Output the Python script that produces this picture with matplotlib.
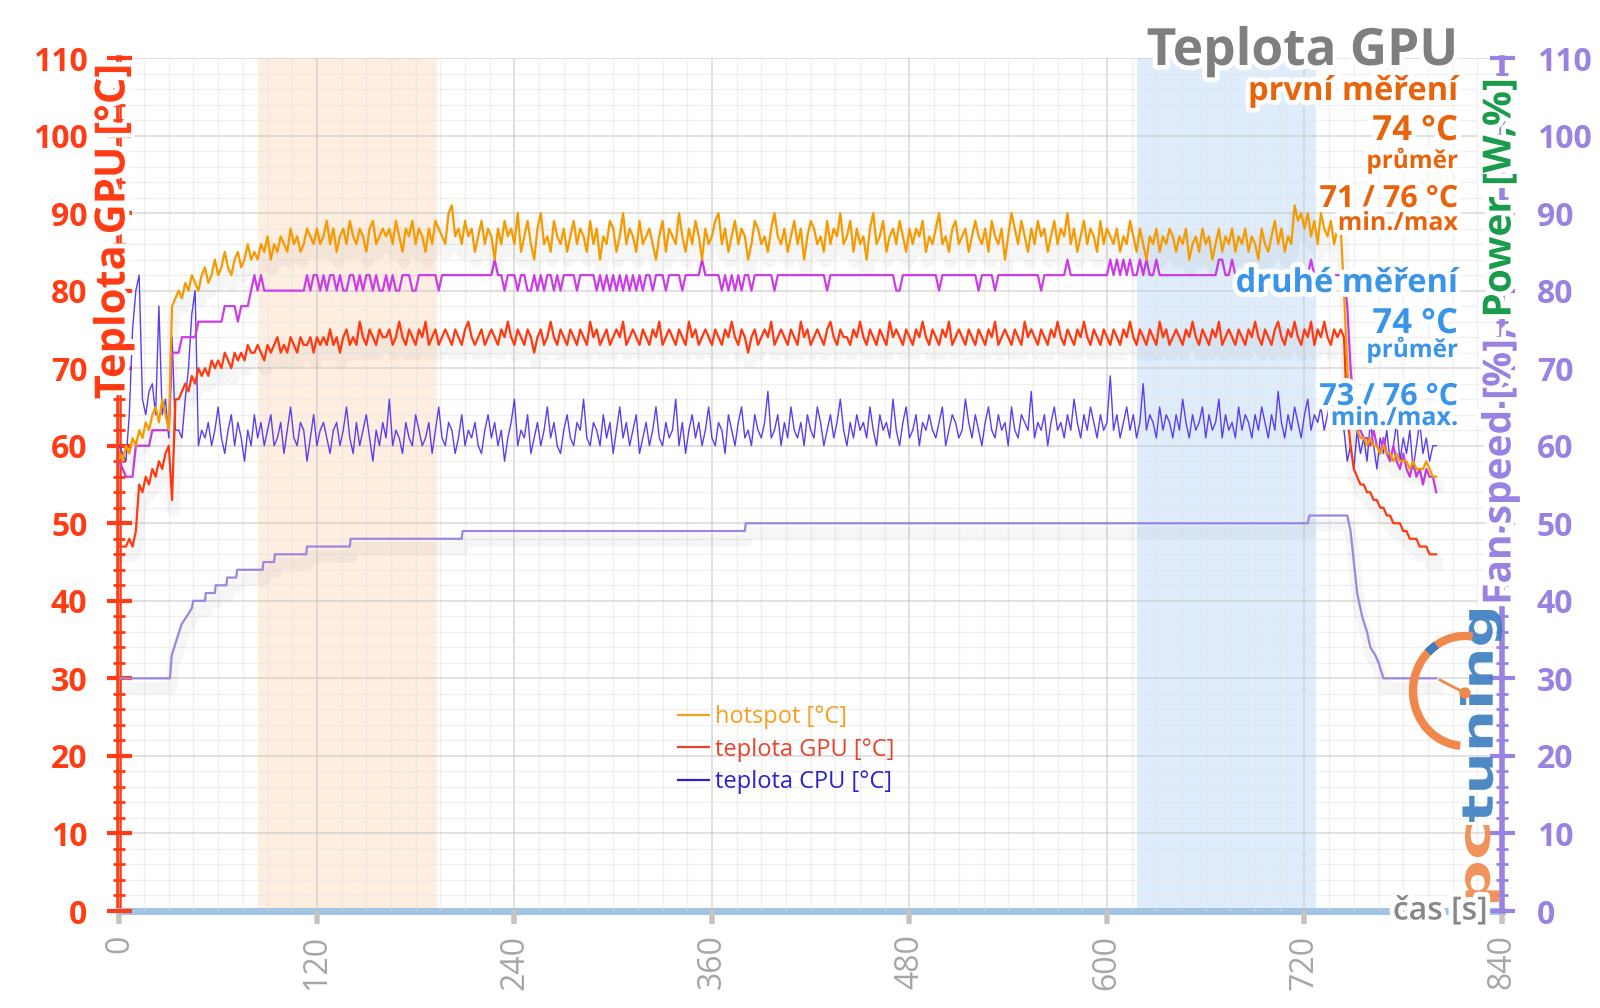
import matplotlib
matplotlib.use("Agg")
import matplotlib.pyplot as plt
import matplotlib.patheffects as pe
from matplotlib.patches import Arc, Circle, PathPatch
from matplotlib.textpath import TextPath
from matplotlib.font_manager import FontProperties
from matplotlib.lines import Line2D
from matplotlib.ticker import MultipleLocator
from matplotlib.transforms import Affine2D
import numpy as np

plt.rcParams['font.family'] = ['Open Sans', 'DejaVu Sans']

STEP = 2  # seconds between samples

# hotspot [°C], one value every 2 s from t=0
hotspot = [
    59, 58, 60, 59, 61, 60,
    62, 61, 63, 62, 64, 65, 63, 66, 64, 62,
    78, 79, 80, 79, 81, 80, 82, 81, 80, 82,
    83, 81, 82, 84, 82, 83, 85, 83, 82, 84, 85, 83, 84, 86, 84,
    85, 84, 86, 85, 87, 84, 86, 85, 87, 86, 85, 88, 86, 87, 85, 86, 88, 87, 86, 88,
    86, 87, 89, 86, 88, 85, 87, 88, 86, 89, 87, 86, 88, 87, 85, 88, 89, 86, 87, 88,
    87, 88, 86, 89, 87, 85, 88, 87, 89, 86, 88, 87, 85, 88, 86, 89, 88, 87, 86, 90,
    91, 87, 88, 86, 89, 87, 88, 85, 87, 89, 86, 88, 87, 84, 88, 86, 89, 87, 88, 86,
    90, 85, 87, 89, 86, 84, 88, 90, 86, 87, 85, 89, 87, 86, 88, 85, 87, 89, 86, 88,
    87, 85, 89, 86, 88, 84, 87, 86, 89, 88, 85, 87, 90, 86, 88, 87, 85, 89, 86, 87,
    88, 86, 84, 87, 89, 85, 88, 87, 86, 90, 87, 85, 88, 86, 89, 87, 84, 88, 86, 87,
    89, 90, 86, 88, 85, 87, 89, 86, 88, 87, 84, 86, 89, 88, 86, 87, 85, 88, 90, 87,
    86, 88, 85, 87, 89, 86, 88, 84, 87, 89, 88, 86, 87, 85, 89, 86, 88, 87, 90, 86,
    87, 89, 85, 88, 86, 87, 84, 88, 90, 86, 87, 89, 85, 87, 88, 86, 89, 87, 85, 88,
    86, 88, 87, 89, 85, 87, 86, 88, 90, 86, 87, 85, 88, 89, 86, 87, 88, 85, 87, 89,
    87, 86, 88, 85, 89, 87, 86, 88, 84, 87, 90, 88, 86, 89, 87, 85, 88, 86, 89, 87,
    88, 85, 87, 89, 86, 88, 87, 90, 86, 88, 85, 87, 89, 86, 88, 87, 85, 89, 86, 88,
    87, 86, 88, 85, 87, 86, 89, 87, 85, 88, 86, 84, 87, 86, 88, 85, 87, 86, 88, 87,
    85, 87, 86, 88, 84, 86, 87, 85, 88, 86, 87, 84, 86, 88, 85, 87, 86, 88, 85, 87,
    86, 88, 85, 87, 86, 84, 88, 86, 85, 87, 89, 86, 88, 85, 87, 86, 91, 89, 90, 88,
    90, 87, 89, 86, 90, 88, 87, 89, 86, 88,
    88, 80, 70, 65, 63, 62, 61, 61, 60, 61, 60, 60, 59, 60, 59,
    59, 58, 59, 58, 58, 58, 57, 58, 57, 57, 57, 58, 57, 56, 56,
]

# teplota GPU [°C]
gpu = [
    47, 47, 47, 48, 47, 49,
    55, 54, 56, 55, 57, 56, 58, 57, 59, 60,
    53, 66, 66, 67, 68, 67, 69, 68, 70, 69,
    70, 69, 71, 70, 71, 70, 72, 71, 70, 72, 71, 72, 71, 73, 72,
    72, 73, 72, 71, 73, 72, 73, 74, 72, 73, 72, 74, 73, 72, 74, 73, 73, 74, 72, 74,
    73, 74, 73, 75, 73, 74, 72, 74, 75, 73, 74, 73, 76, 74, 73, 75, 74, 73, 75, 74,
    74, 75, 73, 74, 76, 74, 73, 75, 74, 73, 75, 74, 76, 73, 74, 75, 73, 74, 75, 74,
    73, 75, 74, 73, 75, 76, 74, 73, 74, 75, 73, 74, 75, 74, 73, 75, 74, 76, 74, 73,
    75, 74, 73, 75, 74, 72, 74, 75, 73, 74, 76, 74, 73, 75, 74, 73, 75, 74, 73, 75,
    74, 73, 76, 74, 75, 73, 74, 75, 73, 74, 75, 74, 76, 73, 74, 75, 74, 73, 75, 74,
    73, 75, 74, 76, 73, 74, 75, 74, 73, 75, 74, 73, 76, 74, 75, 73, 74, 75, 74, 73,
    75, 74, 73, 75, 74, 76, 74, 73, 75, 74, 72, 74, 75, 73, 74, 75, 74, 76, 73, 74,
    75, 74, 73, 75, 74, 73, 76, 74, 75, 73, 74, 75, 74, 73, 75, 76, 74, 73, 75, 74,
    74, 73, 75, 74, 76, 74, 73, 75, 74, 73, 75, 74, 73, 76, 74, 75, 74, 73, 75, 74,
    73, 75, 74, 76, 74, 73, 75, 74, 73, 75, 74, 76, 73, 74, 75, 74, 73, 75, 74, 73,
    75, 74, 73, 75, 74, 76, 73, 74, 75, 74, 73, 75, 74, 73, 76, 74, 75, 74, 73, 75,
    74, 73, 75, 74, 76, 74, 73, 75, 74, 73, 75, 74, 76, 74, 73, 75, 74, 73, 75, 74,
    73, 75, 74, 73, 75, 74, 76, 74, 73, 75, 74, 73, 75, 74, 73, 76, 74, 75, 73, 74,
    75, 74, 73, 75, 74, 76, 74, 73, 75, 74, 73, 75, 74, 76, 73, 74, 75, 74, 73, 75,
    74, 73, 75, 74, 76, 74, 73, 75, 74, 73, 75, 76, 74, 73, 75, 74, 76, 74, 73, 75,
    74, 76, 73, 75, 74, 76, 74, 73, 75, 74,
    75, 74, 64, 60, 57, 56, 55, 55, 54, 54, 53, 53, 52, 52, 51,
    51, 50, 50, 50, 49, 49, 48, 48, 48, 47, 47, 47, 46, 46, 46,
]

# teplota CPU [°C]
cpu = [
    60, 59, 58, 64, 75, 80, 82, 66, 64, 67, 68, 64, 78,
    64, 66, 61, 74, 62, 62, 61, 66, 70, 77, 80, 60, 62,
    61, 63, 60, 62, 65, 61, 59, 62, 64, 60, 63, 61, 58, 62, 60, 64, 61, 63, 60, 62,
    64, 60, 61, 63, 59, 62, 65, 61, 60, 63, 62, 58, 61, 64, 60, 62, 63, 61, 59, 62,
    63, 60, 62, 65, 61, 59, 63, 60, 62, 64, 61, 58, 62, 60, 63, 61, 66, 60, 62, 61,
    59, 63, 61, 60, 64, 62, 60, 61, 63, 59, 62, 65, 61, 60, 63, 62, 59, 61, 64, 60,
    62, 61, 63, 60, 59, 62, 64, 61, 63, 60, 62, 58, 61, 63, 66, 60, 62, 61, 64, 59,
    61, 63, 60, 62, 65, 61, 63, 60, 59, 62, 64, 61, 60, 63, 62, 66, 61, 60, 63, 62,
    60, 64, 61, 63, 59, 62, 65, 61, 63, 60, 62, 64, 59, 61, 63, 60, 62, 65, 61, 60,
    63, 61, 62, 66, 60, 63, 59, 62, 64, 61, 63, 60, 62, 65, 61, 60, 63, 62, 59, 64,
    62, 60, 63, 65, 61, 62, 60, 64, 62, 61, 63, 67, 61, 62, 64, 60, 63, 61, 65, 62,
    61, 63, 60, 64, 62, 61, 65, 63, 60, 62, 64, 61, 63, 66, 62, 60, 63, 61, 64, 62,
    63, 61, 65, 62, 60, 64, 62, 63, 61, 66, 62, 60, 63, 65, 61, 62, 64, 60, 63, 62,
    64, 62, 61, 63, 65, 60, 62, 64, 63, 61, 62, 66, 63, 61, 64, 62, 60, 63, 65, 62,
    61, 64, 62, 63, 60, 65, 62, 61, 64, 63, 62, 67, 61, 63, 62, 64, 60, 63, 65, 62,
    63, 61, 64, 62, 66, 63, 61, 64, 62, 65, 63, 61, 64, 62, 63, 69, 62, 64, 61, 63,
    65, 62, 64, 61, 63, 68, 62, 64, 63, 61, 65, 62, 64, 63, 61, 64, 62, 66, 63, 61,
    64, 62, 63, 65, 61, 64, 62, 63, 66, 61, 64, 62, 63, 61, 65, 62, 64, 63, 61, 64,
    62, 65, 63, 61, 64, 62, 67, 63, 61, 64, 62, 65, 63, 61, 64, 66, 62, 64, 63, 65,
    62, 64, 66, 63, 65,
    64, 62, 58, 60, 57, 62, 59, 61, 58, 63, 60, 57, 61, 59, 62,
    58, 60, 63, 58, 61, 59, 62, 57, 60, 63, 59, 61, 58, 60, 60,
]

# magenta trace on the right axis
power = [
    58, 57, 56, 56, 56, 60, 60, 60, 60, 60, 62, 62, 62,
    62, 62, 62, 72, 72, 72, 74, 74, 74, 74, 74, 76, 76,
    76, 76, 76, 76, 76, 76, 78, 78, 78, 78, 76, 78, 78, 78, 80, 82, 80, 82, 80, 80,
    80, 80, 80, 80, 80, 80, 80, 80, 80, 80, 80, 82, 80, 82, 82, 80, 82, 80, 82, 82,
    80, 82, 80, 80, 82, 82, 80, 82, 80, 82, 82, 80, 82, 80, 80, 82, 80, 82, 80, 80,
    82, 82, 82, 80, 80, 82, 82, 82, 82, 82, 82, 80, 82, 82, 82, 82, 82, 82, 82, 82,
    82, 82, 82, 82, 82, 82, 82, 82, 84, 82, 82, 80, 82, 82, 82, 80, 82, 82, 80, 80,
    82, 80, 82, 80, 82, 82, 80, 82, 80, 82, 82, 82, 82, 80, 82, 82, 82, 82, 82, 80,
    82, 80, 82, 80, 82, 80, 82, 80, 82, 80, 82, 80, 82, 80, 82, 82, 80, 82, 82, 82,
    80, 82, 82, 82, 82, 80, 82, 82, 82, 82, 82, 84, 82, 82, 82, 82, 82, 80, 82, 80,
    82, 80, 82, 80, 82, 82, 80, 82, 82, 82, 82, 82, 82, 80, 82, 82, 82, 82, 82, 82,
    82, 82, 82, 82, 82, 82, 82, 82, 82, 80, 82, 82, 82, 82, 82, 82, 82, 82, 82, 82,
    82, 82, 82, 82, 82, 82, 82, 82, 82, 82, 80, 80, 82, 82, 82, 82, 82, 82, 82, 82,
    82, 82, 82, 80, 82, 82, 82, 82, 82, 82, 82, 82, 82, 82, 82, 80, 82, 82, 82, 82,
    80, 82, 82, 82, 82, 82, 82, 82, 82, 82, 82, 82, 82, 82, 80, 82, 82, 82, 82, 82,
    82, 82, 84, 82, 82, 82, 82, 82, 82, 82, 82, 82, 82, 82, 82, 84, 82, 84, 82, 84,
    82, 84, 82, 82, 84, 82, 84, 82, 82, 84, 82, 82, 82, 82, 82, 82, 82, 82, 82, 82,
    82, 82, 82, 82, 82, 82, 82, 82, 84, 84, 82, 82, 84, 82, 82, 82, 82, 82, 82, 82,
    82, 82, 82, 82, 82, 82, 82, 82, 82, 82, 82, 82, 82, 82, 82, 82, 84, 82, 82, 82,
    82, 82, 82, 82, 82,
    82, 82, 78, 70, 65, 62, 62, 61, 61, 60, 62, 60, 59, 61, 59,
    58, 60, 58, 57, 59, 57, 56, 58, 56, 57, 55, 57, 56, 56, 54,
]

# fan speed [%] step trace, breakpoints (s, %)
fan_t = [0, 30.7, 31.8, 34.8, 37.8, 40.9, 43.9, 44.9, 52, 52.5, 58, 58.5, 65, 65.5,
         71, 71.5, 87, 87.5, 94, 94.5, 113.5, 114, 140, 140.5, 208, 208.5, 380, 380.5,
         722, 723, 746, 748, 750, 752, 755, 758, 760, 763, 765, 768, 800]
fan_v = [30, 30, 33, 35, 37, 38, 39, 40, 40, 41, 41, 42, 42, 43,
         43, 44, 44, 45, 45, 46, 46, 47, 47, 48, 48, 49, 49, 50,
         50, 51, 51, 49, 45, 41, 38, 36, 34, 33, 32, 30, 30]

band_first = (84, 193)
band_second = (618, 727)

legend_labels = ["hotspot [°C]", "teplota GPU [°C]", "teplota CPU [°C]"]
legend_colors = ["#f5a020", "#e8432e", "#2c22cc"]

RED = "#ff3c14"
LAV = "#9a82e2"
W, H = 1600, 1008


def fx(px):
    return px / W


def fy(py):
    return 1 - py / H


glow = [pe.withStroke(linewidth=7, foreground="white")]
shadow = [pe.SimpleLineShadow(offset=(1, -7), shadow_color="black", alpha=0.035, linewidth=9),
          pe.Normal()]

fig = plt.figure(figsize=(16, 10.08), dpi=100)
ax = fig.add_axes([fx(119.4), fy(911), (1502 - 119.4) / W, (911 - 58) / H])
ax.set_xlim(0, 840)
ax.set_ylim(0, 110)

ax.axvspan(*band_first, color="#fdeee0", zorder=0, lw=0)
ax.axvspan(*band_second, color="#deecfc", zorder=0, lw=0)

ax.xaxis.set_major_locator(MultipleLocator(120))
ax.xaxis.set_minor_locator(MultipleLocator(15))
ax.yaxis.set_major_locator(MultipleLocator(10))
ax.yaxis.set_minor_locator(MultipleLocator(2))
ax.set_axisbelow(False)
ax.grid(which="major", color="#c8c8c8", lw=1.3, alpha=0.6)
ax.grid(which="minor", color="#e6e6e6", lw=1.0, alpha=0.6)

ax.tick_params(axis="x", which="major", direction="out", length=9, width=4,
               color="#c4c4c4", labelsize=23, labelcolor="#a6a6a6", pad=8,
               labelrotation=90)
ax.tick_params(axis="x", which="minor", length=0)
ax.tick_params(axis="y", which="major", direction="inout", length=18, width=3,
               color=RED, labelsize=23, labelcolor=RED, pad=14)
ax.tick_params(axis="y", which="minor", direction="inout", length=9, width=2, color=RED)
for lbl in ax.get_yticklabels():
    lbl.set_fontweight("bold")

for side in ("top", "right"):
    ax.spines[side].set_visible(False)
ax.spines["left"].set_color(RED)
ax.spines["left"].set_linewidth(4)
ax.spines["bottom"].set_color("#9dc3e6")
ax.spines["bottom"].set_linewidth(5)

t_hot = np.arange(len(hotspot)) * STEP
t_gpu = np.arange(len(gpu)) * STEP
t_cpu = np.arange(len(cpu)) * STEP
t_pow = np.arange(len(power)) * STEP

ax.plot(fan_t, fan_v, color="#9c86e0", lw=1.6, zorder=3, path_effects=shadow)
ax.plot(t_cpu, cpu, color="#5b3ef0", lw=1.0, zorder=4)
ax.plot(t_gpu, gpu, color="#ff3a10", lw=1.6, zorder=5, path_effects=shadow)
ax.plot(t_pow, power, color="#cc3de8", lw=1.6, zorder=6)
ax.plot(t_hot, hotspot, color="#f59b00", lw=1.6, zorder=7, path_effects=shadow)

ax2 = ax.twinx()
ax2.set_ylim(0, 110)
ax2.yaxis.set_major_locator(MultipleLocator(10))
ax2.yaxis.set_minor_locator(MultipleLocator(2))
for side in ("top", "left", "bottom"):
    ax2.spines[side].set_visible(False)
ax2.spines["right"].set_color(LAV)
ax2.spines["right"].set_linewidth(4)
ax2.tick_params(axis="y", which="major", direction="inout", length=18, width=3,
                color=LAV, labelsize=23, labelcolor=LAV, pad=16)
ax2.tick_params(axis="y", which="minor", direction="inout", length=9, width=2, color=LAV)
for lbl in ax2.get_yticklabels():
    lbl.set_fontweight("bold")

handles = [Line2D([], [], color=c, lw=1.6) for c in legend_colors]
leg = ax.legend(handles, legend_labels, loc="upper left",
                bbox_to_anchor=(fx(678), fy(705)), bbox_transform=fig.transFigure,
                frameon=False, fontsize=17, handlelength=1.3, handletextpad=0.25,
                labelspacing=0.37, borderpad=0, borderaxespad=0)
for txt, c in zip(leg.get_texts(), legend_colors):
    txt.set_color(c)
leg.set_zorder(20)

# axis titles
fig.text(fx(114), fy(64), "Teplota GPU [°C]", rotation=90, ha="center", va="top",
         fontsize=30, fontweight="bold", color=RED, path_effects=glow, zorder=10)
pw = fig.text(fx(1500), fy(78), "Power [W,%]", rotation=90, ha="center", va="top",
              fontsize=28, fontweight="bold", color="#1a9c4c", path_effects=glow, zorder=10)
fig.canvas.draw()
bb = pw.get_window_extent()
fig.text(fx(1500), bb.y0 / H, "Fan speed [%], ", rotation=90, ha="center", va="top",
         fontsize=28, fontweight="bold", color=LAV, path_effects=glow, zorder=10)
fig.text(fx(1488), fy(911), "čas [s]", ha="right", va="center", fontsize=23,
         fontweight="semibold", color="#888888", path_effects=glow, zorder=10)

# headline and summary
RX = fx(1458)
notes = [
    ("Teplota GPU", 65, 37, "#7f7f7f"),
    ("první měření", 100, 23.5, "#e8640c"),
    ("74 °C", 140, 25, "#e8640c"),
    ("průměr", 168, 17.5, "#e8640c"),
    ("71 / 76 °C", 207, 22, "#e8640c"),
    ("min./max", 230, 18, "#e8640c"),
    ("druhé měření", 292, 23.5, "#3a94e8"),
    ("74 °C", 333, 25, "#3a94e8"),
    ("průměr", 357, 17.5, "#3a94e8"),
    ("73 / 76 °C", 405, 22, "#3a94e8"),
    ("min./max.", 425, 18, "#3a94e8"),
]
for s, y, size, c in notes:
    fig.text(RX, fy(y), s, ha="right", va="baseline", fontsize=size,
             fontweight="bold", color=c, path_effects=glow, zorder=10)

# pctuning watermark
lax = fig.add_axes([fx(1380), fy(915), 140 / W, 325 / H])
lax.set_xlim(1380, 1520)
lax.set_ylim(H - 915, H - 590)
lax.axis("off")
lax.set_zorder(5)
fp = FontProperties(family="DejaVu Sans", weight="bold")


def word(s, x_right, y_bottom, length, thick, color):
    tp = TextPath((0, 0), s, size=100, prop=fp)
    e = tp.get_extents()
    tr = (Affine2D().translate(-e.x0, -e.y0)
          .scale(length / e.width, thick / e.height)
          .rotate_deg(90).translate(x_right, H - y_bottom))
    lax.add_patch(PathPatch(tr.transform_path(tp), color=color, lw=0, alpha=0.9))


word("tuning", 1502, 822, 212, 42, "#3b7dc0")
word("pc", 1499, 902, 77, 34, "#f0874b")
cx, cy = 1465, H - 691
lax.add_patch(Arc((cx, cy), 104, 110, theta1=82, theta2=265, color="#f0874b", lw=6))
lax.add_patch(Arc((cx, cy), 104, 110, theta1=122, theta2=134, color="#3b7dc0", lw=6))
lax.plot([cx - 25, cx], [cy + 11, cy - 2], color="#f0874b", lw=2)
lax.add_patch(Circle((cx, cy - 2), 5, color="#f0874b"))

fig.savefig("out.png", dpi=100)
